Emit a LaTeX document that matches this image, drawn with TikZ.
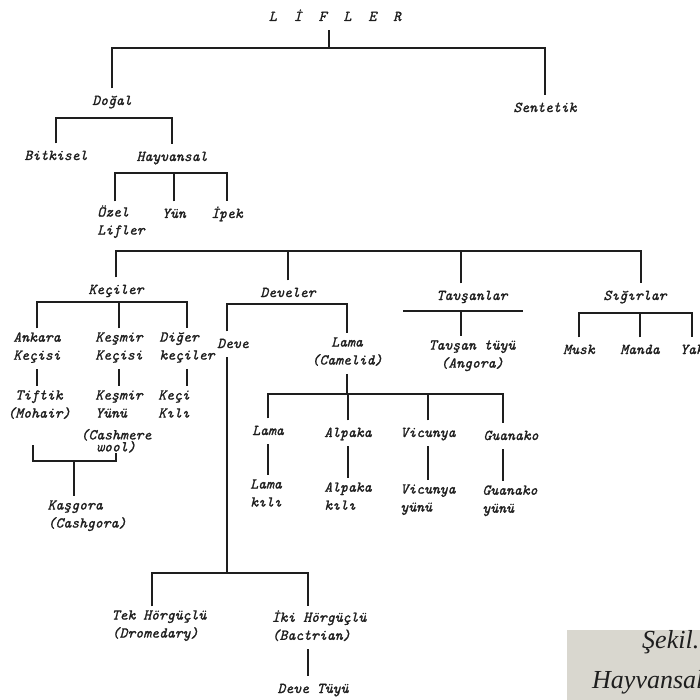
\documentclass[tikz,border=0pt]{standalone}
\usepackage{fontspec}
\newfontfamily\capfont{Liberation Serif}
\newfontfamily\tw{lmmono10-italic.otf}[FakeBold=1.2]
\definecolor{ink}{HTML}{1E1E1E}
\definecolor{paper}{HTML}{FFFFFF}
\definecolor{tag}{HTML}{D9D7CF}
\begin{document}
\begin{tikzpicture}[x=1pt,y=-1pt,
  lab/.style={anchor=north, inner sep=0pt, outer sep=4pt, text=ink,
    font=\fontsize{15}{18}\selectfont\tw,
    execute at begin node=\strut, execute at end node=\strut},
  labl/.style={lab, align=left},
  labc/.style={lab, align=center},
  conn/.style={draw=ink, line width=1.3pt}]
\useasboundingbox (0,0) rectangle (700,700);
\fill[paper] (0,0) rectangle (700,700);
\clip (0,0) rectangle (700,700);

% bar levels
\coordinate (lb) at (329,48);
\coordinate (db) at (0,118);
\coordinate (hb) at (0,173);
\coordinate (ob) at (0,251);
\coordinate (kb) at (0,302);
\coordinate (devb) at (0,304);
\coordinate (tbm) at (461,311);
\coordinate (sb) at (0,313);
\coordinate (lb2) at (348,394);
\coordinate (kgb) at (74,461);
\coordinate (cb) at (227,573);

% nodes
\node[lab] (lifler) at (335,4.4) {L\hspace{17pt}İ\hspace{17pt}F\hspace{17pt}L\hspace{17pt}E\hspace{17pt}R};
\node[lab] (dogal) at (112,88.4) {Doğal};
\node[lab] (sentetik) at (545,95.4) {Sentetik};
\node[lab] (bitkisel) at (56,143.4) {Bitkisel};
\node[lab] (hayvansal) at (172,144.4) {Hayvansal};
\node[labl] (ozel) at (121,201.4) {Özel\\Lifler};
\node[lab] (yun) at (174,201.4) {Yün};
\node[lab] (ipek) at (227,201.4) {İpek};
\node[lab] (keciler) at (116,277.4) {Keçiler};
\node[lab] (develer) at (288,280.4) {Develer};
\node[lab] (tavsanlar) at (472,283.4) {Tavşanlar};
\node[lab] (sigirlar) at (635,283.4) {Sığırlar};
\node[labl] (ankara) at (37,328.4) {Ankara\\Keçisi};
\node[labl] (kesmir) at (119,328.4) {Keşmir\\Keçisi};
\node[labl] (diger) at (187,328.4) {Diğer\\keçiler};
\node[lab] (deve) at (233,331.4) {Deve};
\node[labc] (lama) at (347,333.4) {Lama\\(Camelid)};
\node[labc] (tavsantuyu) at (472,336.4) {Tavşan tüyü\\(Angora)};
\node[lab] (musk) at (579,337.4) {Musk};
\node[lab] (manda) at (640,337.4) {Manda};
\node[lab] (yak) at (692,337.4) {Yak};
\node[labc] (tiftik) at (39,386.4) {Tiftik\\(Mohair)};
\node[labl] (kyunu) at (119,386.4) {Keşmir\\Yünü};
\node[labl] (kecikili) at (174,386.4) {Keçi\\Kılı};
\node[anchor=north, inner sep=0pt, outer sep=0pt, text=ink, align=center,
  font=\fontsize{15}{12}\selectfont\tw] (cashmere) at (116,429) {(Cashmere\\wool)};
\node[labl] (kasgora) at (87,496.4) {Kaşgora\\(Cashgora)};
\node[lab] (lamaa) at (268,418.4) {Lama};
\node[lab] (alpaka) at (348,420.4) {Alpaka};
\node[lab] (vicunya) at (428,420.4) {Vicunya};
\node[lab] (guanako) at (511,423.4) {Guanako};
\node[labl] (lamakili) at (266,475.4) {Lama\\kılı};
\node[labl] (alpakakili) at (348,478.4) {Alpaka\\kılı};
\node[labl] (vicunyayunu) at (428,480.4) {Vicunya\\yünü};
\node[labl] (guanakoyunu) at (510,481.4) {Guanako\\yünü};
\node[labl] (tek) at (159,606.4) {Tek Hörgüçlü\\(Dromedary)};
\node[labl] (iki) at (319,606.4) {İki Hörgüçlü\\(Bactrian)};
\node[lab] (devetuyu) at (313,676.4) {Deve Tüyü};

% connectors
\draw[conn] (lb) -- (lb |- lifler.south);
\draw[conn] (dogal.north) |- (lb) -| (sentetik.north);
\draw[conn] (bitkisel.north) |- (hayvansal.north |- db) -- (hayvansal.north);
\draw[conn] ([xshift=-6pt]ozel.north) |- (ipek.north |- hb) -- (ipek.north);
\draw[conn] (yun.north) -- (yun.north |- hb);
\draw[conn] (keciler.north) |- ([xshift=6pt]sigirlar.north |- ob) -- ([xshift=6pt]sigirlar.north);
\draw[conn] (develer.north) -- (develer.north |- ob);
\draw[conn] ([xshift=-11pt]tavsanlar.north) -- ([xshift=-11pt]tavsanlar.north |- ob);
% goats
\draw[conn] (ankara.north) |- (diger.north |- kb) -- (diger.north);
\draw[conn] (kesmir.north) -- (kesmir.north |- kb);
\draw[conn] (ankara.south) -- (ankara.south |- tiftik.north);
\draw[conn] (kesmir.south) -- (kesmir.south |- kyunu.north);
\draw[conn] (diger.south) -- (diger.south |- kecikili.north);
\draw[conn, shorten <=18pt] ([xshift=-6pt]tiftik.south) |- (kgb) -| (cashmere.south);
\draw[conn] (kgb) -- (kgb |- kasgora.north);
% camels
\draw[conn] ([xshift=-6pt]deve.north) |- (lama.north |- devb) -- (lama.north);
\draw[conn] ([xshift=-6pt]deve.south) -- (cb);
\draw[conn] ([xshift=-7pt]tek.north) |- (cb) -| ([xshift=-11pt]iki.north);
\draw[conn] ([xshift=-11pt]iki.south) -- ([xshift=-11pt]iki.south |- devetuyu.north);
\draw[conn] (lama.south) -- (lama.south |- lb2);
\draw[conn] (lamaa.north) |- (lb2) -| ([xshift=-8pt]guanako.north);
\draw[conn] (alpaka.north) -- (alpaka.north |- lb2);
\draw[conn] (vicunya.north) -- (vicunya.north |- lb2);
\draw[conn] (lamaa.south) -- (lamaa.south |- lamakili.north);
\draw[conn] (alpaka.south) -- (alpaka.south |- alpakakili.north);
\draw[conn] (vicunya.south) -- (vicunya.south |- vicunyayunu.north);
\draw[conn] ([xshift=-8pt]guanako.south) -- ([xshift=-8pt]guanako.south |- guanakoyunu.north);
% rabbits
\draw[conn] ([xshift=-58pt]tbm) -- ([xshift=62pt]tbm);
\draw[conn] (tbm) -- (tbm |- tavsantuyu.north);
% cattle
\draw[conn] (musk.north) |- (yak.north |- sb) -- (yak.north);
\draw[conn] (manda.north) -- (manda.north |- sb);

% caption fragment
\fill[tag] (567,630) rectangle (700,700);
\node[anchor=base west, inner sep=0pt, text=ink, font=\capfont\itshape\fontsize{26}{30}\selectfont] (sekil) at (642,648) {Şekil.};
\node[anchor=base west, inner sep=0pt, text=ink, font=\capfont\itshape\fontsize{26}{30}\selectfont] (hayv) at (592,688) {Hayvansal};
\end{tikzpicture}
\end{document}
